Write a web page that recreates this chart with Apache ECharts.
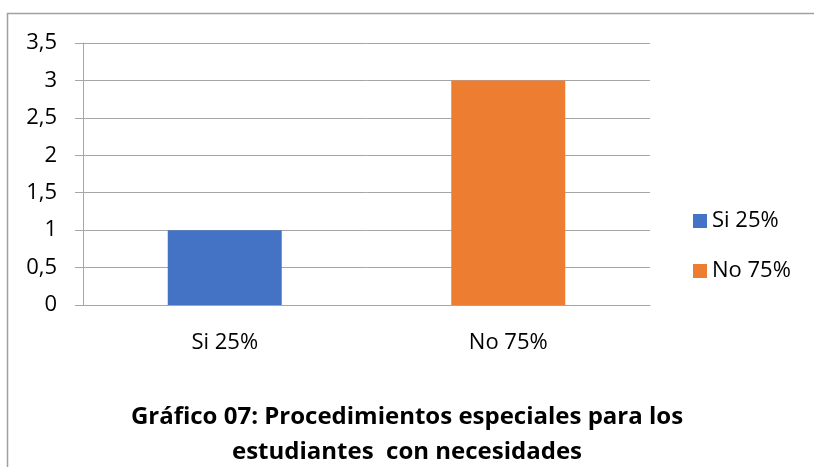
<!DOCTYPE html>
<html>
<head>
<meta charset="utf-8">
<script src="https://cdn.jsdelivr.net/npm/echarts@6/dist/echarts.min.js"></script>
<style>
  html, body { margin: 0; padding: 0; background: #fff; }
  #chart { width: 814px; height: 467px; }
</style>
</head>
<body>
<div id="chart"></div>
<script>
// datos del gráfico
var categories = ['Si 25%', 'No 75%']
var values = [1, 3]
var colors = ['#4472C4', '#ED7D31']
var yMax = 3.5
var yStep = 0.5
var titleText = 'Gráfico 07: Procedimientos especiales para los\nestudiantes  con necesidades'

var font = '"Open Sans", "Noto Sans", sans-serif'
var gridColor = '#a6a6a6'

var chart = echarts.init(document.getElementById('chart'))

// one series per category so each gets its own legend entry
var series = categories.map(function (name, i) {
  return {
    name: name,
    type: 'bar',
    barWidth: 114,
    barGap: '-100%',
    itemStyle: { color: colors[i] },
    data: values.map(function (v, j) { return j === i ? v : '-' })
  }
})

chart.setOption({
  animation: false,
  color: colors,
  graphic: [{
    type: 'rect',
    shape: { x: 7.5, y: 13.5, width: 1000, height: 1000 },
    style: { fill: 'none', stroke: '#a0a0a0', lineWidth: 1.5 },
    silent: true
  }],
  title: {
    text: titleText,
    left: 'center',
    top: 395,
    textStyle: {
      fontFamily: font,
      fontWeight: 'bold',
      fontSize: 24,
      lineHeight: 35,
      color: '#000'
    }
  },
  legend: {
    orient: 'vertical',
    left: 693,
    top: 210,
    padding: 0,
    itemWidth: 14,
    itemHeight: 14,
    itemGap: 28,
    icon: 'rect',
    textStyle: { fontFamily: font, fontSize: 22, lineHeight: 20, color: '#000' },
    data: categories
  },
  grid: { left: 83, right: 164, top: 43, bottom: 162 },
  xAxis: {
    type: 'category',
    data: categories,
    axisTick: { show: false },
    axisLine: { lineStyle: { color: gridColor, width: 1 } },
    axisLabel: { fontFamily: font, fontSize: 22, color: '#000', margin: 27 }
  },
  yAxis: {
    type: 'value',
    min: 0,
    max: yMax,
    interval: yStep,
    axisLine: { show: true, lineStyle: { color: gridColor, width: 1 } },
    axisTick: { show: true, length: 8, lineStyle: { color: gridColor } },
    splitLine: { lineStyle: { color: gridColor, width: 1 } },
    axisLabel: {
      fontFamily: font,
      fontSize: 22,
      color: '#000',
      margin: 26,
      formatter: function (v) { return String(v).replace('.', ',') }
    }
  },
  series: series
})
</script>
</body>
</html>
